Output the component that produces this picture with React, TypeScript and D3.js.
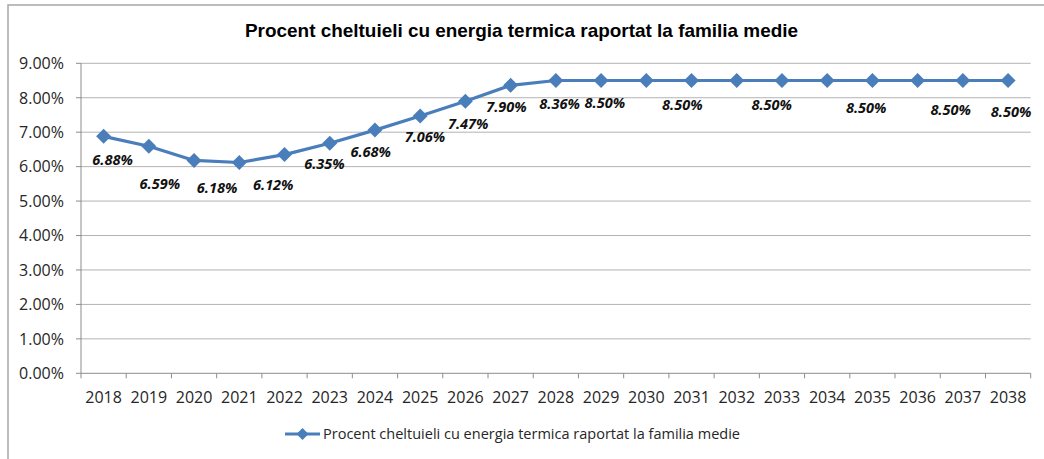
import React from 'react';
import * as d3 from 'd3';

// data
const years = [
  '2018', '2019', '2020', '2021', '2022', '2023', '2024', '2025', '2026', '2027', '2028',
  '2029', '2030', '2031', '2032', '2033', '2034', '2035', '2036', '2037', '2038',
];
const percentValues = [
  6.88, 6.59, 6.18, 6.12, 6.35, 6.68, 7.06, 7.47, 7.9, 8.36, 8.5,
  8.5, 8.5, 8.5, 8.5, 8.5, 8.5, 8.5, 8.5, 8.5, 8.5,
];
const yTicks = [0, 1, 2, 3, 4, 5, 6, 7, 8, 9];
const chartTitle = 'Procent cheltuieli cu energia termica raportat la familia medie';
const seriesName = 'Procent cheltuieli cu energia termica raportat la familia medie';

// where Excel put each data label, relative to its point (null = not shown)
const labelOffsets: ([number, number] | null)[] = [
  [9, 23], [11, 37], [23, 27], [34, 22], [40, 9], [41, 9], [50, 7], [48, 7.5], [41, 6], [49, 18],
  [49, 22], null, [36, 24], null, [35, 24], null, [39, 27], null, [33, 29], null, [3, 31],
];

const W = 1044;
const H = 459;
const margin = { top: 63.3, right: 13.3, bottom: 85.7, left: 81 };
const blue = '#4a7ebb';
const grid = '#b3b3b3';
const axisCol = '#8c8c8c';
const textCol = '#262626';

const diamond = (cx: number, cy: number, r: number) =>
  `M${cx},${cy - r}L${cx + r},${cy}L${cx},${cy + r}L${cx - r},${cy}Z`;

export default function App() {
  const x = d3.scaleBand<string>().domain(years).range([margin.left, W - margin.right]).padding(0);
  const y = d3.scaleLinear().domain([0, 9]).range([H - margin.bottom, margin.top]);
  const cx = (i: number) => (x(years[i]) as number) + x.bandwidth() / 2;

  const line = d3
    .line<number>()
    .x((_, i) => cx(i))
    .y((d) => y(d));

  const bottom = y(0);
  const boundaries = years.map((yr) => x(yr) as number).concat([W - margin.right]);

  return (
    <svg
      width={W}
      height={H}
      style={{ position: 'absolute', left: 0, top: 0, background: '#fff' }}
    >
      <rect x={8} y={5} width={1200} height={600} fill="#fff" stroke="#a6a6a6" strokeWidth={1.5} />

      <text
        x={245}
        y={37}
        fontFamily="Liberation Sans, Arial, sans-serif"
        fontWeight="bold"
        fontSize={19}
        textLength={553}
        lengthAdjust="spacingAndGlyphs"
        fill="#000"
      >
        {chartTitle}
      </text>

      {/* gridlines */}
      {yTicks.slice(1).map((t) => (
        <line key={t} x1={margin.left} x2={W - margin.right} y1={y(t)} y2={y(t)} stroke={grid} strokeWidth={1} />
      ))}

      {/* axes */}
      <line x1={margin.left} x2={margin.left} y1={margin.top} y2={bottom} stroke={axisCol} />
      <line x1={margin.left} x2={W - margin.right} y1={bottom} y2={bottom} stroke={axisCol} />
      {yTicks.map((t) => (
        <g key={t}>
          <line x1={margin.left - 5} x2={margin.left} y1={y(t)} y2={y(t)} stroke={axisCol} />
          <text
            x={64}
            y={y(t)}
            dy="0.36em"
            textAnchor="end"
            fontFamily="Open Sans, sans-serif"
            fontSize={16}
            fill={textCol}
          >
            {t.toFixed(2)}%
          </text>
        </g>
      ))}
      {boundaries.map((bx, i) => (
        <line key={i} x1={bx} x2={bx} y1={bottom} y2={bottom + 5} stroke={axisCol} />
      ))}
      {years.map((yr, i) => (
        <text
          key={yr}
          x={cx(i)}
          y={397}
          dy="0.36em"
          textAnchor="middle"
          fontFamily="Open Sans, sans-serif"
          fontSize={16}
          fill={textCol}
        >
          {yr}
        </text>
      ))}

      {/* series */}
      <path d={line(percentValues) ?? ''} fill="none" stroke={blue} strokeWidth={3.2} strokeLinejoin="round" />
      {percentValues.map((v, i) => (
        <path key={i} d={diamond(cx(i), y(v), 7.5)} fill={blue} />
      ))}

      {/* data labels */}
      {percentValues.map((v, i) => {
        const off = labelOffsets[i];
        if (!off) return null;
        return (
          <text
            key={i}
            x={cx(i) + off[0]}
            y={y(v) + off[1]}
            dy="0.36em"
            textAnchor="middle"
            fontFamily="Open Sans, sans-serif"
            fontWeight="bold"
            fontStyle="italic"
            fontSize={14.5}
            fill="#111"
          >
            {v.toFixed(2)}%
          </text>
        );
      })}

      {/* legend */}
      <line x1={285} x2={320} y1={434} y2={434} stroke={blue} strokeWidth={3} />
      <path d={diamond(302.5, 434, 6)} fill={blue} />
      <text
        x={323}
        y={439}
        fontFamily="Open Sans, sans-serif"
        fontSize={14.5}
        textLength={417}
        lengthAdjust="spacingAndGlyphs"
        fill={textCol}
      >
        {seriesName}
      </text>
    </svg>
  );
}
